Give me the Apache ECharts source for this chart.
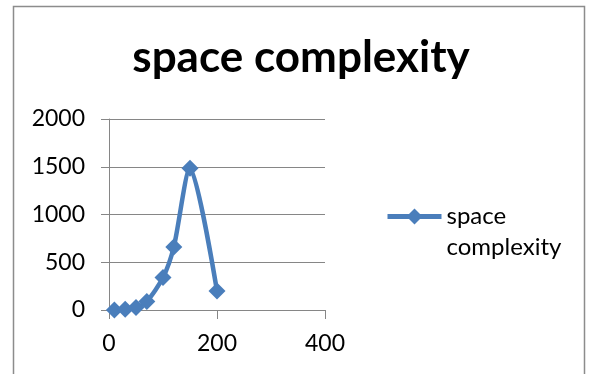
<!DOCTYPE html>
<html>
<head>
<meta charset="utf-8">
<script src="https://cdn.jsdelivr.net/npm/echarts@6/dist/echarts.min.js"></script>
<style>
  html, body { margin: 0; padding: 0; background: #ffffff; }
  #chart { width: 590px; height: 374px; }
</style>
</head>
<body>
<div id="chart"></div>
<script>
// Input size (n) and measured space usage
const seriesName = 'space complexity';
const xValues = [10, 30, 50, 70, 100, 120, 150, 200];
const yValues = [1, 9, 25, 90, 340, 660, 1485, 200];
const xTicks = { min: 0, max: 400, interval: 200 };
const yTicks = { min: 0, max: 2000, interval: 500 };

const points = xValues.map((x, i) => [x, yValues[i]]);
const FONT = 'Lato, "Open Sans", sans-serif';
const lineColor = '#4a7ebb';
const gridGray = '#868686';

const chart = echarts.init(document.getElementById('chart'), null, { renderer: 'canvas' });
chart.setOption({
  backgroundColor: '#ffffff',
  animation: false,
  title: {
    text: seriesName,
    left: 296,
    textAlign: 'center',
    top: 31,
    textStyle: { fontFamily: FONT, fontWeight: 'bold', fontSize: 44, color: '#000000' }
  },
  graphic: [{
    type: 'rect',
    shape: { x: 13.5, y: 6.5, width: 571, height: 380 },
    style: { fill: 'none', stroke: '#8c8c8c', lineWidth: 1.5 },
    silent: true
  }],
  legend: {
    left: 385,
    top: 170,
    padding: 0,
    orient: 'vertical',
    itemWidth: 54,
    itemHeight: 20,
    itemGap: 4,
    data: [seriesName],
    // first line sits level with the legend symbol, second line below it
    formatter: name => '\n' + name.replace(' ', '\n'),
    lineStyle: { width: 5 },
    textStyle: {
      fontFamily: FONT,
      fontSize: 24,
      color: '#000000',
      lineHeight: 31
    }
  },
  grid: { left: 109, right: 265, top: 119, bottom: 64, containLabel: false },
  xAxis: {
    type: 'value',
    min: xTicks.min,
    max: xTicks.max,
    interval: xTicks.interval,
    axisLine: { show: true, onZero: false, lineStyle: { color: gridGray, width: 1 } },
    axisTick: { show: true, inside: false, length: 9, lineStyle: { color: gridGray } },
    splitLine: { show: false },
    axisLabel: { margin: 22, fontFamily: FONT, fontSize: 23, color: '#000000' }
  },
  yAxis: {
    type: 'value',
    min: yTicks.min,
    max: yTicks.max,
    interval: yTicks.interval,
    axisLine: { show: true, lineStyle: { color: gridGray, width: 1 } },
    axisTick: { show: true, inside: false, length: 8, lineStyle: { color: gridGray } },
    splitLine: { show: true, lineStyle: { color: gridGray, width: 1 } },
    axisLabel: {
      margin: 24, fontFamily: FONT, fontSize: 23, color: '#000000',
      formatter: v => String(v)
    }
  },
  series: [{
    name: seriesName,
    type: 'line',
    data: points,
    smooth: 0.25,
    symbol: 'diamond',
    symbolSize: 17,
    lineStyle: { color: lineColor, width: 4.5 },
    itemStyle: { color: lineColor },
    clip: false
  }]
});
</script>
</body>
</html>
